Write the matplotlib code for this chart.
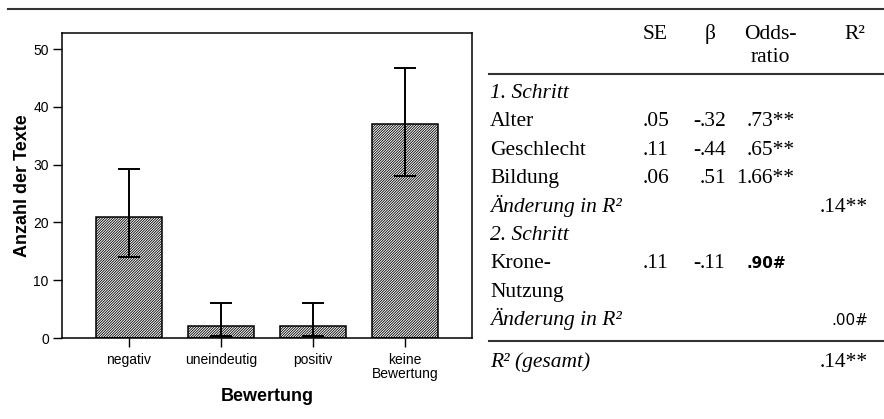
import matplotlib
matplotlib.use("Agg")
import matplotlib.pyplot as plt
from matplotlib.lines import Line2D

# ---------------- data ----------------
categories = ["negativ", "uneindeutig", "positiv", "keine\nBewertung"]
counts = [21, 2, 2, 37]
ci_upper = [29.2, 6.1, 6.1, 46.7]
ci_lower = [14.0, 0.4, 0.4, 28.0]
y_ticks = [0, 10, 20, 30, 40, 50]

row_labels = ["1. Schritt", "Alter", "Geschlecht", "Bildung", "Änderung in R²",
              "2. Schritt", "Krone-", "Nutzung", "Änderung in R²"]
row_italic = [True, False, False, False, True, True, False, False, True]
col_se = ["", ".05", ".11", ".06", "", "", ".11", "", ""]
col_beta = ["", "-.32", "-.44", ".51", "", "", "-.11", "", ""]
col_odds = ["", ".73**", ".65**", "1.66**", "", "", ".90#", "", ""]
col_r2 = ["", "", "", "", ".14**", "", "", "", ".00#"]
total_label = "R² (gesamt)"
total_r2 = ".14**"
headers = ["SE", "β", "Odds-\nratio", "R²"]

# ---------------- figure ----------------
W, H = 884, 419
fig = plt.figure(figsize=(W / 100, H / 100), dpi=100)
plt.rcParams['hatch.linewidth'] = 0.6

def fx(px):
    return px / W

def fy(py):
    return 1 - py / H

# chart axes
ax_l, ax_r, ax_t, ax_b = 62, 472, 33, 338
ax = fig.add_axes([fx(ax_l), fy(ax_b), (ax_r - ax_l) / W, (ax_b - ax_t) / H])
x = list(range(len(categories)))
ax.bar(x, counts, width=0.71, color="white", edgecolor="black", linewidth=1.1,
       hatch="/" * 13, zorder=2)
yerr = [[c - lo for c, lo in zip(counts, ci_lower)],
        [hi - c for c, hi in zip(counts, ci_upper)]]
ax.errorbar(x, counts, yerr=yerr, fmt="none", ecolor="black", elinewidth=1.4,
            capsize=8, capthick=1.4, zorder=3)
ax.set_xlim(-0.728, 3.728)
ax.set_ylim(0, 52.8)
ax.set_yticks(y_ticks)
ax.set_xticks(x)
ax.set_xticklabels(categories, fontsize=10, family="Liberation Sans", linespacing=1.0)
ax.set_yticklabels([str(t) for t in y_ticks], fontsize=10, family="Liberation Sans")
ax.tick_params(axis="both", direction="out", length=6.5, width=1.0, pad=3, color="black")
ax.tick_params(axis="x", pad=4)
for sp in ax.spines.values():
    sp.set_linewidth(1.1)
    sp.set_color("black")
ax.set_ylabel("Anzahl der Texte", fontsize=13, fontweight="bold", family="Liberation Sans")
ax.yaxis.set_label_coords(-0.075, 0.5)
ax.set_xlabel("Bewertung", fontsize=13, fontweight="bold", family="Liberation Sans")
ax.xaxis.set_label_coords(0.5, -0.165)

# ---------------- table ----------------
serif = "Liberation Serif"
sans = "DejaVu Sans"
fs = 15.5

# lines
fig.add_artist(Line2D([fx(8), fx(884)], [fy(9.5), fy(9.5)], color="#333333", lw=1.5))
fig.add_artist(Line2D([fx(489), fx(884)], [fy(74.5), fy(74.5)], color="#333333", lw=1.5))
fig.add_artist(Line2D([fx(489), fx(884)], [fy(341), fy(341)], color="#333333", lw=1.5))

# headers
hdr_x = [655, 710, 770, 855]
for hx, h in zip(hdr_x, headers):
    lines = h.split("\n")
    for k, ln in enumerate(lines):
        fig.text(fx(hx), fy(39 + 23 * k), ln, ha="center", va="baseline",
                 fontsize=fs, family=serif)

def cell(s, xdec, yb):
    if not s:
        return
    fam = sans if "#" in s else serif
    size = 11 if "#" in s else fs
    weight = "bold" if s == ".90#" else "normal"
    i = s.index(".")
    left, right = s[:i], s[i:]
    fig.text(fx(xdec), fy(yb), right, ha="left", va="baseline", fontsize=size,
             family=fam, fontweight=weight)
    if left:
        fig.text(fx(xdec), fy(yb), left, ha="right", va="baseline", fontsize=size,
                 family=fam, fontweight=weight)

def rcell(s, xr, yb):
    if not s:
        return
    fam = sans if "#" in s else serif
    size = 11 if "#" in s else fs
    fig.text(fx(xr), fy(yb), s, ha="right", va="baseline", fontsize=size, family=fam)

for i, lab in enumerate(row_labels):
    yb = 98 + 28.4 * i
    fig.text(fx(490), fy(yb), lab, ha="left", va="baseline", fontsize=fs,
             family=serif, style="italic" if row_italic[i] else "normal")
    cell(col_se[i], 643, yb)
    cell(col_beta[i], 700, yb)
    cell(col_odds[i], 747, yb)
    rcell(col_r2[i], 868, yb)

fig.text(fx(490), fy(367), total_label, ha="left", va="baseline", fontsize=fs,
         family=serif, style="italic")
rcell(total_r2, 868, 367)

fig.savefig("out.png", dpi=100)
